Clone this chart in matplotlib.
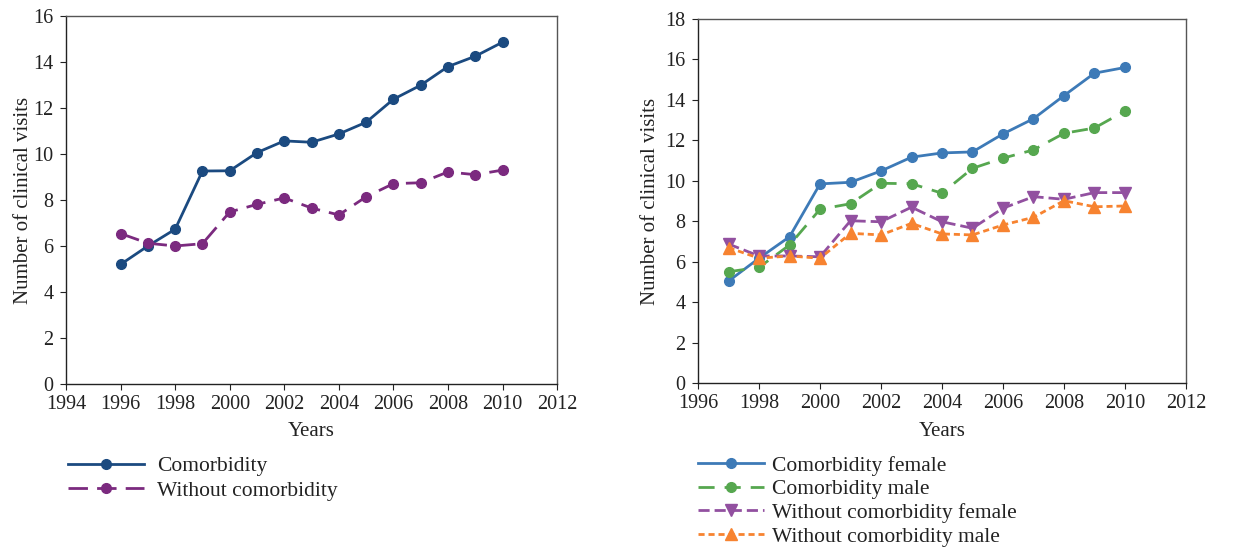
import matplotlib
matplotlib.use("Agg")
import matplotlib.pyplot as plt

plt.rcParams['font.family'] = ['Liberation Serif', 'DejaVu Serif']

# Left panel: all patients
years_all = [1996, 1997, 1998, 1999, 2000, 2001, 2002, 2003, 2004, 2005,
             2006, 2007, 2008, 2009, 2010]
comorb = [5.2, 6.0, 6.73, 9.26, 9.27, 10.06, 10.57, 10.51, 10.87, 11.38,
          12.38, 12.99, 13.8, 14.25, 14.86]
no_comorb = [6.54, 6.12, 6.0, 6.1, 7.48, 7.81, 8.09, 7.65, 7.35, 8.14,
             8.71, 8.75, 9.22, 9.1, 9.3]

# Right panel: by sex
years_sex = [1997, 1998, 1999, 2000, 2001, 2002, 2003, 2004, 2005,
             2006, 2007, 2008, 2009, 2010]
comorb_f = [5.05, 6.18, 7.24, 9.85, 9.93, 10.49, 11.17, 11.38, 11.43,
            12.32, 13.07, 14.21, 15.32, 15.6]
comorb_m = [5.51, 5.73, 6.83, 8.6, 8.87, 9.88, 9.86, 9.39, 10.62,
            11.12, 11.53, 12.35, 12.61, 13.45]
no_comorb_f = [6.88, 6.29, 6.29, 6.25, 8.03, 7.98, 8.7, 7.98, 7.66,
               8.65, 9.22, 9.09, 9.42, 9.42]
no_comorb_m = [6.7, 6.18, 6.29, 6.18, 7.41, 7.33, 7.9, 7.38, 7.33,
               7.82, 8.2, 9.02, 8.72, 8.76]

labels_all = ["Comorbidity", "Without comorbidity"]
labels_sex = ["Comorbidity female", "Comorbidity male",
              "Without comorbidity female", "Without comorbidity male"]

TICK_FS = 14.5
LABEL_FS = 15
LEG_FS = 15.5

fig = plt.figure(figsize=(12.51, 5.48), dpi=100)

ax1 = fig.add_axes([0.0528, 0.2993, 0.3925, 0.6715])
ax2 = fig.add_axes([0.558, 0.3005, 0.390, 0.665])


def style(ax, ylabelpad):
    for side in ["left", "bottom"]:
        ax.spines[side].set_color("#222222")
        ax.spines[side].set_linewidth(1.0)
    for side in ["top", "right"]:
        ax.spines[side].set_color("#555555")
        ax.spines[side].set_linewidth(1.0)
    ax.tick_params(direction="out", length=4, width=0.8, labelsize=TICK_FS,
                   colors="#222222")
    ax.tick_params(axis="x", pad=4)
    ax.tick_params(axis="y", pad=5)
    ax.set_xlabel("Years", fontsize=LABEL_FS, labelpad=6, color="#222222")
    ax.set_ylabel("Number of clinical visits", fontsize=LABEL_FS,
                  labelpad=ylabelpad, color="#222222")


l1, = ax1.plot(years_all, comorb, color="#1b4a80", lw=2, marker="o", ms=7)
l2, = ax1.plot(years_all, no_comorb, color="#7b2a7f", lw=2, marker="o", ms=7,
               dashes=(7, 3.3))
ax1.set_xlim(1994, 2012)
ax1.set_ylim(0, 16)
ax1.set_xticks(range(1994, 2013, 2))
ax1.set_yticks(range(0, 17, 2))
style(ax1, 0)
leg1 = ax1.legend([l1, l2], labels_all, loc="upper left",
                  bbox_to_anchor=(0.003, -0.196), frameon=False,
                  fontsize=LEG_FS, handlelength=3.55, handletextpad=0.6,
                  labelspacing=0.2, borderaxespad=0, borderpad=0)

r1, = ax2.plot(years_sex, comorb_f, color="#3d7ab7", lw=2, marker="o", ms=7)
r2, = ax2.plot(years_sex, comorb_m, color="#56a74f", lw=2, marker="o", ms=7,
               dashes=(5.8, 3.6))
r3, = ax2.plot(years_sex, no_comorb_f, color="#9250a0", lw=2, marker="v",
               ms=8, dashes=(4, 1.8))
r4, = ax2.plot(years_sex, no_comorb_m, color="#f78330", lw=2, marker="^",
               ms=8, dashes=(2.2, 1.4))
ax2.set_xlim(1996, 2012)
ax2.set_ylim(0, 18)
ax2.set_xticks(range(1996, 2013, 2))
ax2.set_yticks(range(0, 19, 2))
style(ax2, 3.5)
leg2 = ax2.legend([r1, r2, r3, r4], labels_sex, loc="upper left",
                  bbox_to_anchor=(0.0, -0.198), frameon=False,
                  fontsize=LEG_FS, handlelength=3.05, handletextpad=0.4,
                  labelspacing=0.17, borderaxespad=0, borderpad=0)
for leg in (leg1, leg2):
    for t in leg.get_texts():
        t.set_color("#222222")

fig.savefig("out.png", dpi=100, facecolor="white")
